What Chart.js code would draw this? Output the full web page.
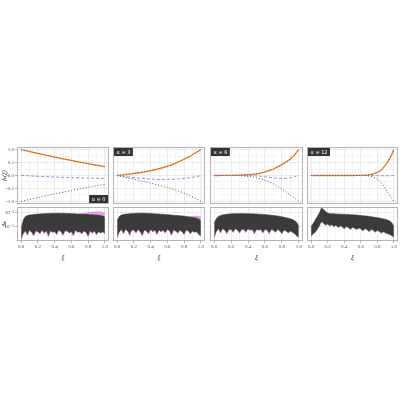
<!DOCTYPE html>
<html lang="en">
<head>
<meta charset="UTF-8">
<title>f_k(ξ) and Δ_k for several α</title>
<script src="https://cdn.jsdelivr.net/npm/chart.js"></script>
<style>
  body { margin: 0; background: #fff; }
  #wrap { position: relative; width: 400px; height: 400px; }
  #wrap canvas { position: absolute; left: 0; top: 0; }
</style>
</head>
<body>
<div id="wrap"></div>
<script>
// panel titles
const alphaLabels = ['α = 0', 'α = 3', 'α = 6', 'α = 12'];

// top row: f_k(ξ), sampled every 0.05
const xi = [0, 0.05, 0.1, 0.15, 0.2, 0.25, 0.3, 0.35, 0.4, 0.45, 0.5, 0.55, 0.6, 0.65, 0.7, 0.75, 0.8, 0.85, 0.9, 0.95, 1];

const upperA0 = [1.00, 0.962, 0.925, 0.888, 0.852, 0.816, 0.781, 0.746, 0.712, 0.678, 0.645, 0.612, 0.580, 0.548, 0.517, 0.486, 0.456, 0.426, 0.397, 0.368, 0.34];
const exactA0 = [1.00, 0.962, 0.925, 0.888, 0.852, 0.816, 0.781, 0.746, 0.712, 0.678, 0.645, 0.612, 0.580, 0.548, 0.517, 0.486, 0.456, 0.426, 0.397, 0.368, 0.34];
const midA0 = [0, -0.008, -0.016, -0.024, -0.031, -0.038, -0.045, -0.052, -0.058, -0.064, -0.07, -0.076, -0.081, -0.086, -0.091, -0.096, -0.1, -0.104, -0.108, -0.112, -0.115];
const lowerA0 = [-1.00, -0.962, -0.925, -0.888, -0.852, -0.816, -0.781, -0.746, -0.712, -0.678, -0.645, -0.612, -0.580, -0.548, -0.517, -0.486, -0.456, -0.426, -0.397, -0.368, -0.34];

const upperA3 = [0, 0.012, 0.03, 0.05, 0.072, 0.096, 0.123, 0.153, 0.186, 0.222, 0.262, 0.306, 0.354, 0.41, 0.48, 0.55, 0.63, 0.71, 0.8, 0.9, 1.0];
const exactA3 = [0, 0.025, 0.05, 0.075, 0.095, 0.115, 0.135, 0.16, 0.19, 0.224, 0.262, 0.306, 0.354, 0.41, 0.48, 0.55, 0.63, 0.71, 0.8, 0.9, 1.0];
const midA3 = [0, -0.02, -0.04, -0.06, -0.08, -0.095, -0.11, -0.125, -0.135, -0.145, -0.15, -0.152, -0.152, -0.148, -0.14, -0.13, -0.115, -0.095, -0.07, -0.04, 0];
const lowerA3 = [0, -0.035, -0.07, -0.105, -0.14, -0.178, -0.216, -0.255, -0.295, -0.336, -0.378, -0.42, -0.464, -0.51, -0.565, -0.62, -0.68, -0.75, -0.83, -0.91, -1.0];

const upperA6 = [0, 0, 0.002, 0.004, 0.007, 0.01, 0.015, 0.022, 0.032, 0.046, 0.065, 0.095, 0.14, 0.19, 0.25, 0.33, 0.42, 0.52, 0.64, 0.8, 1.0];
const exactA6 = [0, 0, 0.002, 0.004, 0.007, 0.01, 0.015, 0.022, 0.032, 0.046, 0.065, 0.095, 0.14, 0.19, 0.25, 0.33, 0.42, 0.52, 0.64, 0.8, 1.0];
const midA6 = [0, 0, 0, 0, 0, 0, 0, -0.002, -0.003, -0.005, -0.015, -0.03, -0.05, -0.07, -0.09, -0.105, -0.115, -0.11, -0.09, -0.05, 0.02];
const lowerA6 = [0, 0, 0, 0, -0.002, -0.005, -0.01, -0.02, -0.035, -0.055, -0.085, -0.125, -0.18, -0.245, -0.32, -0.42, -0.53, -0.64, -0.76, -0.88, -1.0];

const upperA12 = [0, 0, 0, 0, 0, 0, 0, 0, 0, 0, 0, 0.001, 0.003, 0.01, 0.025, 0.06, 0.12, 0.22, 0.41, 0.65, 1.0];
const exactA12 = [0, 0, 0, 0, 0, 0, 0, 0, 0, 0, 0, 0.001, 0.003, 0.01, 0.025, 0.06, 0.12, 0.22, 0.41, 0.65, 1.0];
const midA12 = [0, 0, 0, 0, 0, 0, 0, 0, 0, 0, 0, 0, 0, 0, 0, -0.002, -0.005, -0.008, -0.01, -0.01, 0];
const lowerA12 = [0, 0, 0, 0, 0, 0, 0, 0, 0, 0, 0, 0, -0.001, -0.005, -0.02, -0.06, -0.14, -0.3, -0.52, -0.76, -1.0];

// bottom row: log10 of Δ_k, band edges sampled every 0.025
const xiBand = [0, 0.025, 0.05, 0.075, 0.1, 0.125, 0.15, 0.175, 0.2, 0.225, 0.25, 0.275, 0.3, 0.325, 0.35, 0.375, 0.4, 0.425, 0.45, 0.475, 0.5, 0.525, 0.55, 0.575, 0.6, 0.625, 0.65, 0.675, 0.7, 0.725, 0.75, 0.775, 0.8, 0.825, 0.85, 0.875, 0.9, 0.925, 0.95, 0.975, 1];

const bandTopA0 = [-5.3, -4.0, -3.5, -3.38, -3.3, -3.27, -3.22, -3.2, -3.16, -3.15, -3.12, -3.1, -3.08, -3.09, -3.06, -3.05, -3.06, -3.04, -3.05, -3.06, -3.05, -3.07, -3.08, -3.07, -3.1, -3.11, -3.12, -3.14, -3.15, -3.17, -3.18, -3.2, -3.22, -3.24, -3.25, -3.28, -3.3, -3.34, -3.38, -3.45, -3.6];
const bandLowA0 = [-6.85, -6.0, -5.6, -6.2, -5.5, -5.8, -6.3, -5.6, -5.7, -6.0, -5.5, -5.9, -5.6, -6.4, -5.6, -5.8, -5.7, -6.1, -5.5, -5.7, -6.2, -5.6, -5.6, -5.9, -5.7, -6.3, -5.5, -5.8, -5.7, -6.0, -5.6, -5.8, -6.4, -5.6, -5.9, -5.6, -6.1, -5.7, -5.9, -5.7, -6.0];
const pinkTopA0 = Array(27).fill(null).concat([-3.14, -3.1, -3.05, -3.0, -2.95, -2.9, -2.87, -2.84, -2.82, -2.8, -2.8, -2.82, -2.85, -2.95]);

const bandTopA3 = [-4.1, -3.5, -3.3, -3.22, -3.18, -3.14, -3.1, -3.08, -3.06, -3.05, -3.04, -3.03, -3.04, -3.03, -3.05, -3.06, -3.08, -3.1, -3.12, -3.14, -3.15, -3.18, -3.2, -3.22, -3.25, -3.27, -3.3, -3.32, -3.35, -3.38, -3.4, -3.43, -3.46, -3.5, -3.54, -3.58, -3.63, -3.68, -3.74, -3.85, -4.2];
const bandLowA3 = [-6.6, -5.8, -5.4, -6.0, -5.4, -5.6, -6.2, -5.5, -5.5, -5.9, -5.4, -5.7, -6.3, -5.5, -5.6, -6.0, -5.4, -5.7, -5.5, -6.1, -5.5, -5.7, -5.5, -5.9, -5.4, -5.6, -6.2, -5.5, -5.6, -5.9, -5.5, -5.7, -6.1, -5.5, -5.6, -6.0, -5.6, -5.8, -5.7, -6.1, -6.3];
const pinkTopA3 = Array(34).fill(null).concat([-3.54, -3.5, -3.45, -3.42, -3.4, -3.42, -3.5]);

const bandTopA6 = [-4.5, -3.8, -3.5, -3.36, -3.28, -3.22, -3.18, -3.15, -3.13, -3.12, -3.11, -3.1, -3.1, -3.09, -3.1, -3.1, -3.11, -3.12, -3.13, -3.14, -3.15, -3.17, -3.19, -3.21, -3.23, -3.26, -3.29, -3.32, -3.36, -3.4, -3.44, -3.49, -3.54, -3.6, -3.67, -3.75, -3.84, -3.95, -4.1, -4.35, -4.9];
const bandLowA6 = [-6.6, -5.7, -5.3, -5.9, -5.3, -5.5, -6.0, -5.4, -5.4, -5.8, -5.3, -5.5, -5.9, -5.4, -5.4, -5.8, -5.3, -5.5, -5.4, -6.0, -5.4, -5.5, -5.4, -5.9, -5.4, -5.5, -6.0, -5.4, -5.5, -5.8, -5.4, -5.6, -6.0, -5.5, -5.6, -5.9, -5.6, -5.8, -6.0, -6.3, -6.5];
const pinkTopA6 = [];

const bandTopA12 = [-4.95, -4.5, -4.0, -3.5, -3.0, -2.3, -2.5, -2.8, -3.0, -3.1, -3.12, -3.13, -3.15, -3.16, -3.17, -3.18, -3.2, -3.21, -3.22, -3.24, -3.26, -3.28, -3.3, -3.33, -3.36, -3.39, -3.42, -3.45, -3.49, -3.53, -3.57, -3.62, -3.67, -3.72, -3.78, -3.85, -3.93, -4.02, -4.15, -4.4, -4.95];
const bandLowA12 = [-6.4, -6.0, -5.8, -5.4, -4.9, -4.3, -4.5, -4.8, -4.6, -4.9, -4.7, -5.0, -4.8, -5.1, -4.9, -5.0, -5.3, -5.0, -5.1, -5.4, -5.1, -5.2, -5.4, -5.2, -5.3, -5.6, -5.3, -5.4, -5.7, -5.4, -5.5, -5.8, -5.5, -5.7, -5.9, -5.7, -5.9, -6.0, -6.1, -6.3, -6.5];
const pinkTopA12 = [];

// axis ticks
const xMajor = [0, 0.2, 0.4, 0.6, 0.8, 1];
const xMinor = [0.1, 0.3, 0.5, 0.7, 0.9];
const fMajor = [-1, -0.5, 0, 0.5, 1];
const fMinor = [-0.75, -0.25, 0.25, 0.75];
const deltaMajor = [-5, -3];
const deltaTickLabels = ['10⁻⁵', '10⁻³'];

const tops = [
  [upperA0, exactA0, midA0, lowerA0],
  [upperA3, exactA3, midA3, lowerA3],
  [upperA6, exactA6, midA6, lowerA6],
  [upperA12, exactA12, midA12, lowerA12]
];
const bands = [
  [bandTopA0, bandLowA0, pinkTopA0],
  [bandTopA3, bandLowA3, pinkTopA3],
  [bandTopA6, bandLowA6, pinkTopA6],
  [bandTopA12, bandLowA12, pinkTopA12]
];

// panel frames in page pixels
const panelLeft = [17, 113, 210, 307];
const panelRight = [109, 205, 303, 398];

const ORANGE = '#f28a2a', PURPLE = '#a386da', DOTS = '#555555', EXACT = 'rgba(70,40,20,0.75)';
const BAND = '#3b3b3b', PINK = 'rgba(222,140,226,0.85)';
const GRID_MAJ = '#ebebeb', GRID_MIN = '#f5f5f5', FRAME = '#b3b3b3', TEXT = '#4d4d4d';

Chart.defaults.font.family = '"Liberation Serif", "DejaVu Serif", serif';

const frame = {
  id: 'frame',
  afterDraw(chart, args, opts) {
    const a = chart.chartArea, ctx = chart.ctx;
    ctx.save();
    ctx.strokeStyle = FRAME;
    ctx.lineWidth = 1;
    ctx.strokeRect(a.left + 0.5, a.top + 0.5, a.right - a.left - 1, a.bottom - a.top - 1);
    if (opts.label) {
      ctx.font = '5px "DejaVu Sans"';
      const w = ctx.measureText(opts.label).width + 5, h = 8;
      const x = opts.corner === 'br' ? a.right - w - 1 : a.left + 1;
      const y = opts.corner === 'br' ? a.bottom - h - 1 : a.top + 1;
      ctx.fillStyle = '#333';
      ctx.fillRect(x, y, w, h);
      ctx.fillStyle = '#fff';
      ctx.textAlign = 'left';
      ctx.textBaseline = 'middle';
      ctx.fillText(opts.label, x + 2.5, y + h / 2 + 0.5);
    }
    ctx.restore();
  }
};

function makeCanvas() {
  const c = document.createElement('canvas');
  c.width = 400;
  c.height = 400;
  document.getElementById('wrap').appendChild(c);
  return c;
}

function gridColor(major) {
  return ctx => (ctx.tick && major.includes(ctx.tick.value)) ? GRID_MAJ : GRID_MIN;
}

function tickColor(major) {
  return ctx => (ctx.tick && major.includes(ctx.tick.value)) ? FRAME : 'rgba(0,0,0,0)';
}

function xScale(showLabels) {
  return {
    type: 'linear', min: -0.05, max: 1.05,
    afterBuildTicks: s => { s.ticks = xMajor.concat(xMinor).sort((a, b) => a - b).map(v => ({ value: v })); },
    afterFit: s => { s.height = showLabels ? 20 : 0; },
    border: { display: false },
    grid: { color: gridColor(xMajor), drawTicks: showLabels, tickLength: 2, tickColor: tickColor(xMajor) },
    ticks: {
      display: showLabels, padding: 1, autoSkip: false, maxRotation: 0,
      font: { size: 5 }, color: TEXT,
      callback: v => xMajor.includes(v) ? v.toFixed(1) : ''
    },
    title: { display: showLabels, text: 'ξ', font: { size: 7, style: 'italic' }, color: '#222', padding: 0 }
  };
}

function line(data, color, dash, width) {
  return {
    data: data, borderColor: color, borderDash: dash, borderWidth: width,
    pointRadius: 0, fill: false, cubicInterpolationMode: 'monotone'
  };
}

function baseOptions(i, top, bottom, label, corner) {
  const first = i === 0;
  return {
    responsive: false, devicePixelRatio: 1, animation: false, events: [],
    layout: { padding: { left: panelLeft[i] - (first ? 17 : 0), right: 400 - panelRight[i], top: top, bottom: bottom } },
    plugins: { legend: { display: false }, tooltip: { enabled: false }, frame: { label: label, corner: corner } }
  };
}

function createTop(i) {
  const first = i === 0;
  const [upper, exact, mid, lower] = tops[i];
  const options = baseOptions(i, 147, 196, alphaLabels[i], first ? 'br' : 'tl');
  options.scales = {
    x: xScale(false),
    y: {
      type: 'linear', min: -1.1, max: 1.1,
      afterBuildTicks: s => { s.ticks = fMajor.concat(fMinor).sort((a, b) => a - b).map(v => ({ value: v })); },
      afterFit: s => { s.width = first ? 17 : 0; },
      border: { display: false },
      grid: { color: gridColor(fMajor), drawTicks: first, tickLength: 2, tickColor: tickColor(fMajor) },
      ticks: {
        display: first, padding: 1, autoSkip: false, font: { size: 5 }, color: TEXT,
        callback: v => fMajor.includes(v) ? v.toFixed(1) : ''
      },
      title: { display: first, text: 'fₖ(ξ)', font: { size: 6, style: 'italic' }, color: '#222', padding: 1 }
    }
  };
  new Chart(makeCanvas(), {
    type: 'line',
    data: {
      labels: xi,
      datasets: [
        line(exact, EXACT, [1, 2], 0.9),
        line(mid, PURPLE, [3, 2], 1),
        line(upper, ORANGE, [], 1.3),
        line(lower, DOTS, [1, 2], 1)
      ]
    },
    options: options
  });
}

function createBottom(i) {
  const first = i === 0;
  const [bandTop, bandLow, pinkTop] = bands[i];
  const options = baseOptions(i, 207, 139, null, null);
  options.scales = {
    x: xScale(true),
    y: {
      type: 'linear', min: -7, max: -2.15,
      afterBuildTicks: s => { s.ticks = deltaMajor.map(v => ({ value: v })); },
      afterFit: s => { s.width = first ? 17 : 0; },
      border: { display: false },
      grid: { color: GRID_MAJ, drawTicks: first, tickLength: 2, tickColor: FRAME },
      ticks: {
        display: first, padding: 1, autoSkip: false, font: { size: 5 }, color: TEXT,
        callback: v => deltaTickLabels[deltaMajor.indexOf(v)]
      },
      title: { display: first, text: 'Δₖ', font: { size: 6, style: 'italic' }, color: '#222', padding: 1 }
    }
  };
  const datasets = [
    { data: bandLow, borderColor: PINK, borderWidth: 0.6, pointRadius: 0, tension: 0, fill: false },
    { data: bandTop, borderColor: BAND, borderWidth: 0.6, backgroundColor: BAND, pointRadius: 0, tension: 0, fill: 0 }
  ];
  if (pinkTop.length) {
    datasets.push({ data: pinkTop, borderColor: PINK, borderWidth: 0, backgroundColor: PINK, pointRadius: 0, tension: 0.3, fill: 0 });
  }
  new Chart(makeCanvas(), {
    type: 'line',
    data: { labels: xiBand, datasets: datasets },
    options: options
  });
}

Chart.register(frame);
for (let i = 0; i < 4; i++) {
  createTop(i);
  createBottom(i);
}
</script>
</body>
</html>
